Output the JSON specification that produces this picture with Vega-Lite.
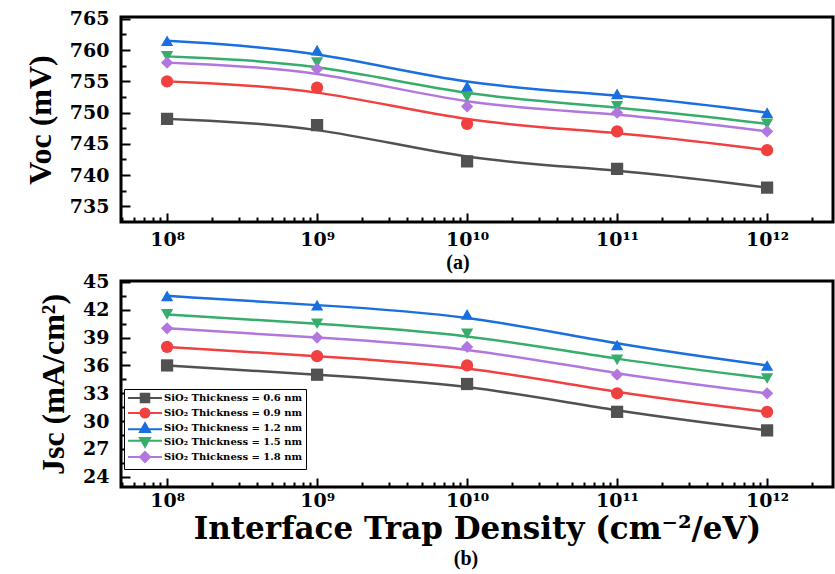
{
  "$schema": "https://vega.github.io/schema/vega-lite/v6.json",
  "background": "white",
  "padding": {"left": 22, "top": 8, "right": 0, "bottom": 0},
  "bounds": "flush",
  "spacing": 59,
  "resolve": {"scale": {"color": "independent", "shape": "independent"}, "legend": {"color": "independent", "shape": "independent"}},
  "data": {"values": [
    {"d": 1e8, "t": "0.6", "voc": 749, "jsc": 36},
    {"d": 1e9, "t": "0.6", "voc": 748, "jsc": 35},
    {"d": 1e10, "t": "0.6", "voc": 742.2, "jsc": 34},
    {"d": 1e11, "t": "0.6", "voc": 741, "jsc": 31},
    {"d": 1e12, "t": "0.6", "voc": 738, "jsc": 29},
    {"d": 1e8, "t": "0.9", "voc": 755, "jsc": 38},
    {"d": 1e9, "t": "0.9", "voc": 754, "jsc": 37},
    {"d": 1e10, "t": "0.9", "voc": 748.2, "jsc": 36},
    {"d": 1e11, "t": "0.9", "voc": 747, "jsc": 33},
    {"d": 1e12, "t": "0.9", "voc": 744, "jsc": 31},
    {"d": 1e8, "t": "1.2", "voc": 761.5, "jsc": 43.5},
    {"d": 1e9, "t": "1.2", "voc": 760, "jsc": 42.5},
    {"d": 1e10, "t": "1.2", "voc": 754.2, "jsc": 41.5},
    {"d": 1e11, "t": "1.2", "voc": 753, "jsc": 38.2},
    {"d": 1e12, "t": "1.2", "voc": 750, "jsc": 36},
    {"d": 1e8, "t": "1.5", "voc": 759, "jsc": 41.5},
    {"d": 1e9, "t": "1.5", "voc": 758, "jsc": 40.5},
    {"d": 1e10, "t": "1.5", "voc": 752.5, "jsc": 39.4},
    {"d": 1e11, "t": "1.5", "voc": 751, "jsc": 36.6},
    {"d": 1e12, "t": "1.5", "voc": 748.2, "jsc": 34.6},
    {"d": 1e8, "t": "1.8", "voc": 758, "jsc": 40},
    {"d": 1e9, "t": "1.8", "voc": 757, "jsc": 39},
    {"d": 1e10, "t": "1.8", "voc": 751, "jsc": 38},
    {"d": 1e11, "t": "1.8", "voc": 750, "jsc": 35},
    {"d": 1e12, "t": "1.8", "voc": 747, "jsc": 33}
  ]},
  "config": {
    "font": "Liberation Serif",
    "view": {"stroke": "black", "strokeWidth": 3},
    "axis": {
      "domain": false, "grid": false, "tickColor": "black", "tickWidth": 2,
      "labelFont": "DejaVu Serif", "labelFontWeight": "bold", "labelFontSize": 19, "labelColor": "black",
      "titleFont": "Liberation Serif", "titleFontWeight": "bold", "titleColor": "black"
    },
    "title": {"font": "Liberation Serif", "fontWeight": "bold", "fontSize": 20, "color": "black"}
  },
  "vconcat": [
    {
      "width": 712, "height": 205,
      "title": {"text": "(a)", "orient": "bottom", "dx": -19, "offset": 4},
      "resolve": {"axis": {"x": "independent", "y": "independent"}},
      "layer": [
        {
          "mark": {"type": "line", "interpolate": "basis", "strokeWidth": 2.5},
          "encoding": {
            "x": {"field": "d", "type": "quantitative",
              "scale": {"type": "log", "domain": [4.93e7, 2.75e12], "nice": false},
              "axis": {"orient": "bottom", "values": [1e8, 1e9, 1e10, 1e11, 1e12], "tickSize": -9, "labelPadding": 17, "title": null,
                "labelExpr": "datum.value < 5e8 ? '10⁸' : datum.value < 5e9 ? '10⁹' : datum.value < 5e10 ? '10¹⁰' : datum.value < 5e11 ? '10¹¹' : '10¹²'"}},
            "y": {"field": "voc", "type": "quantitative",
              "scale": {"domain": [732.5, 765.3], "nice": false, "zero": false},
              "axis": {"orient": "left", "values": [735, 740, 745, 750, 755, 760, 765], "tickSize": -9, "labelPadding": 21,
                "title": "Voc (mV)", "titleFontSize": 32, "titlePadding": 12}},
            "color": {"field": "t", "type": "nominal",
              "scale": {"domain": ["0.6", "0.9", "1.2", "1.5", "1.8"], "range": ["#515151", "#F14040", "#1A6FDF", "#37AD6B", "#B177DE"]},
              "legend": null}
          }
        },
        {
          "mark": {"type": "point", "filled": true, "size": 150, "opacity": 1},
          "encoding": {
            "x": {"field": "d", "type": "quantitative",
              "scale": {"type": "log", "domain": [4.93e7, 2.75e12], "nice": false},
              "axis": {"orient": "bottom", "labels": false, "tickSize": -5, "title": null,
                "values": [5e7, 6e7, 7e7, 8e7, 9e7, 2e8, 3e8, 4e8, 5e8, 6e8, 7e8, 8e8, 9e8, 2e9, 3e9, 4e9, 5e9, 6e9, 7e9, 8e9, 9e9, 2e10, 3e10, 4e10, 5e10, 6e10, 7e10, 8e10, 9e10, 2e11, 3e11, 4e11, 5e11, 6e11, 7e11, 8e11, 9e11, 2e12]}},
            "y": {"field": "voc", "type": "quantitative",
              "scale": {"domain": [732.5, 765.3], "nice": false, "zero": false},
              "axis": {"orient": "left", "labels": false, "tickSize": -5, "title": null,
                "values": [737.5, 742.5, 747.5, 752.5, 757.5, 762.5]}},
            "color": {"field": "t", "type": "nominal",
              "scale": {"domain": ["0.6", "0.9", "1.2", "1.5", "1.8"], "range": ["#515151", "#F14040", "#1A6FDF", "#37AD6B", "#B177DE"]},
              "legend": null},
            "shape": {"field": "t", "type": "nominal",
              "scale": {"domain": ["0.6", "0.9", "1.2", "1.5", "1.8"], "range": ["square", "circle", "triangle-up", "triangle-down", "diamond"]},
              "legend": null}
          }
        }
      ]
    },
    {
      "width": 712, "height": 206,
      "title": {"text": "(b)", "orient": "bottom", "dx": -11, "offset": 5},
      "resolve": {"axis": {"x": "independent", "y": "independent"}},
      "layer": [
        {
          "mark": {"type": "line", "interpolate": "basis", "strokeWidth": 2.5},
          "encoding": {
            "x": {"field": "d", "type": "quantitative",
              "scale": {"type": "log", "domain": [4.93e7, 2.75e12], "nice": false},
              "axis": {"orient": "bottom", "values": [1e8, 1e9, 1e10, 1e11, 1e12], "tickSize": -9, "labelPadding": 13,
                "title": "Interface Trap Density (cm⁻²/eV)", "titleFont": "DejaVu Serif", "titleFontSize": 31, "titlePadding": 4,
                "labelExpr": "datum.value < 5e8 ? '10⁸' : datum.value < 5e9 ? '10⁹' : datum.value < 5e10 ? '10¹⁰' : datum.value < 5e11 ? '10¹¹' : '10¹²'"}},
            "y": {"field": "jsc", "type": "quantitative",
              "scale": {"domain": [22.9, 45.1], "nice": false, "zero": false},
              "axis": {"orient": "left", "values": [24, 27, 30, 33, 36, 39, 42, 45], "tickSize": -9, "labelPadding": 21,
                "title": "Jsc (mA/cm²)", "titleFontSize": 32, "titlePadding": 12}},
            "color": {"field": "t", "type": "nominal",
              "scale": {"domain": ["0.6", "0.9", "1.2", "1.5", "1.8"], "range": ["#515151", "#F14040", "#1A6FDF", "#37AD6B", "#B177DE"]},
              "legend": {"orient": "none", "legendX": 3, "legendY": 108, "title": null,
                "labelExpr": "'SiO₂ Thickness = ' + datum.label + ' nm'",
                "labelFont": "DejaVu Serif", "labelFontWeight": "bold", "labelFontSize": 10, "labelColor": "black",
                "fillColor": "white", "strokeColor": "black", "padding": 3, "rowPadding": -3,
                "symbolSize": 100, "symbolOffset": 12, "labelOffset": 13, "symbolStrokeWidth": 2,
                "encode": {"symbols": {"update": {
                  "shape": {"signal": "datum.value === '0.6' ? 'M-3.4,0H3.4M-0.85,-0.85H0.85V0.85H-0.85Z' : datum.value === '0.9' ? 'M-3.4,0H3.4M-0.9,0A0.9,0.9 0 1,0 0.9,0A0.9,0.9 0 1,0 -0.9,0Z' : datum.value === '1.2' ? 'M-3.4,0.25H3.4M0,-0.95L1,0.8H-1Z' : datum.value === '1.5' ? 'M-3.4,-0.25H3.4M0,0.95L1,-0.8H-1Z' : 'M-3.4,0H3.4M0,-1L1,0L0,1L-1,0Z'"},
                  "stroke": {"signal": "datum.value === '0.6' ? '#515151' : datum.value === '0.9' ? '#F14040' : datum.value === '1.2' ? '#1A6FDF' : datum.value === '1.5' ? '#37AD6B' : '#B177DE'"},
                  "strokeWidth": {"value": 2}
                }}}}
            }
          }
        },
        {
          "mark": {"type": "point", "filled": true, "size": 150, "opacity": 1},
          "encoding": {
            "x": {"field": "d", "type": "quantitative",
              "scale": {"type": "log", "domain": [4.93e7, 2.75e12], "nice": false},
              "axis": {"orient": "bottom", "labels": false, "tickSize": -5, "title": null,
                "values": [5e7, 6e7, 7e7, 8e7, 9e7, 2e8, 3e8, 4e8, 5e8, 6e8, 7e8, 8e8, 9e8, 2e9, 3e9, 4e9, 5e9, 6e9, 7e9, 8e9, 9e9, 2e10, 3e10, 4e10, 5e10, 6e10, 7e10, 8e10, 9e10, 2e11, 3e11, 4e11, 5e11, 6e11, 7e11, 8e11, 9e11, 2e12]}},
            "y": {"field": "jsc", "type": "quantitative",
              "scale": {"domain": [22.9, 45.1], "nice": false, "zero": false},
              "axis": {"orient": "left", "labels": false, "tickSize": -5, "title": null,
                "values": [25.5, 28.5, 31.5, 34.5, 37.5, 40.5, 43.5]}},
            "color": {"field": "t", "type": "nominal",
              "scale": {"domain": ["0.6", "0.9", "1.2", "1.5", "1.8"], "range": ["#515151", "#F14040", "#1A6FDF", "#37AD6B", "#B177DE"]},
              "legend": {"orient": "none", "legendX": 3, "legendY": 108, "title": null,
                "labelExpr": "'SiO₂ Thickness = ' + datum.label + ' nm'",
                "labelFont": "DejaVu Serif", "labelFontWeight": "bold", "labelFontSize": 10, "labelColor": "black",
                "fillColor": "white", "strokeColor": "black", "padding": 3, "rowPadding": -3,
                "symbolSize": 100, "symbolOffset": 12, "labelOffset": 13, "symbolStrokeWidth": 2,
                "encode": {"symbols": {"update": {
                  "shape": {"signal": "datum.value === '0.6' ? 'M-3.4,0H3.4M-0.85,-0.85H0.85V0.85H-0.85Z' : datum.value === '0.9' ? 'M-3.4,0H3.4M-0.9,0A0.9,0.9 0 1,0 0.9,0A0.9,0.9 0 1,0 -0.9,0Z' : datum.value === '1.2' ? 'M-3.4,0.25H3.4M0,-0.95L1,0.8H-1Z' : datum.value === '1.5' ? 'M-3.4,-0.25H3.4M0,0.95L1,-0.8H-1Z' : 'M-3.4,0H3.4M0,-1L1,0L0,1L-1,0Z'"},
                  "stroke": {"signal": "datum.value === '0.6' ? '#515151' : datum.value === '0.9' ? '#F14040' : datum.value === '1.2' ? '#1A6FDF' : datum.value === '1.5' ? '#37AD6B' : '#B177DE'"},
                  "strokeWidth": {"value": 2}
                }}}}
            },
            "shape": {"condition": [
                {"test": "datum.t === '0.6'", "value": "square"},
                {"test": "datum.t === '0.9'", "value": "circle"},
                {"test": "datum.t === '1.2'", "value": "triangle-up"},
                {"test": "datum.t === '1.5'", "value": "triangle-down"}
              ], "value": "diamond"}
          }
        }
      ]
    }
  ]
}
